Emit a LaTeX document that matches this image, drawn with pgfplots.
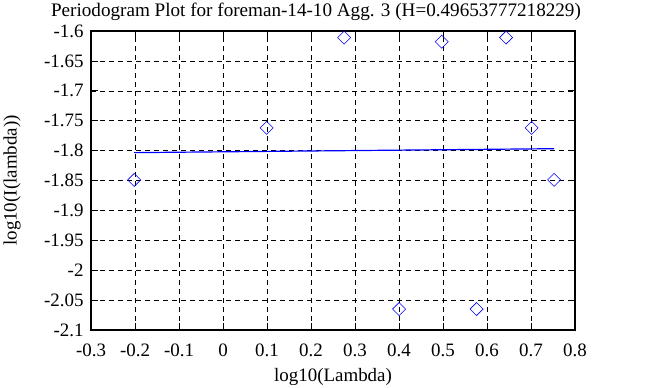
\documentclass[border=0pt]{standalone}
\usepackage{fontspec}
\setmainfont{Liberation Serif}
\usepackage{pgfplots}
\pgfplotsset{compat=1.18}
\begin{document}
\begin{tikzpicture}[x=1bp,y=1bp]
\useasboundingbox (-91,-57) rectangle (577,330);
\begin{axis}[
  at={(0,0)}, anchor=south west,
  scale only axis, width=484bp, height=299bp,
  xmin=-0.3, xmax=0.8, ymin=-2.1, ymax=-1.6,
  xtick={-0.3,-0.2,...,0.81}, ytick={-2.1,-2.05,...,-1.59},
  xticklabels={-0.3,-0.2,-0.1,0,0.1,0.2,0.3,0.4,0.5,0.6,0.7,0.8},
  yticklabels={-2.1,-2.05,-2,-1.95,-1.9,-1.85,-1.8,-1.75,-1.7,-1.65,-1.6},
  /pgf/number format/assume math mode=true,
  tick align=inside, major tick length=7bp,
  tick style={black, line width=0.8pt},
  axis line style={black, line width=1.6pt},
  grid=major,
  major grid style={black, line width=0.6pt, dash pattern=on 5bp off 4bp},
  ticklabel style={font=\fontsize{19}{19}\selectfont},
  xticklabel style={anchor=center, yshift=-20bp},
  yticklabel style={xshift=-4bp},
  label style={font=\fontsize{19}{19}\selectfont},
  title style={font=\fontsize{19.2}{19.2}\selectfont, at={(axis description cs:0.5,1.070)}, anchor=center, yshift=-8bp, xshift=-17bp},
  title={Periodogram Plot for foreman-14-10 Agg. 3 (H=0.49653777218229)},
  xlabel={log10(Lambda)},
  ylabel={log10(I(lambda))},
  xlabel style={at={(axis description cs:0.5,-0.157)}, anchor=center},
  ylabel style={at={(axis description cs:-0.163,0.5)}, anchor=center},
  clip=false,
]
\addplot[only marks, mark=square, mark size=4.6bp, blue, mark options={rotate=45, line width=0.6pt}] coordinates {
  (-0.2018,-1.849) (0.0992,-1.762) (0.2753,-1.611) (0.4002,-2.065)
  (0.4971,-1.618) (0.5763,-2.065) (0.6433,-1.611) (0.7013,-1.762) (0.7525,-1.849)
};
\addplot[blue, line width=1.2pt] coordinates {(-0.2018,-1.8034) (0.7525,-1.7968)};
\end{axis}
\end{tikzpicture}
\end{document}
